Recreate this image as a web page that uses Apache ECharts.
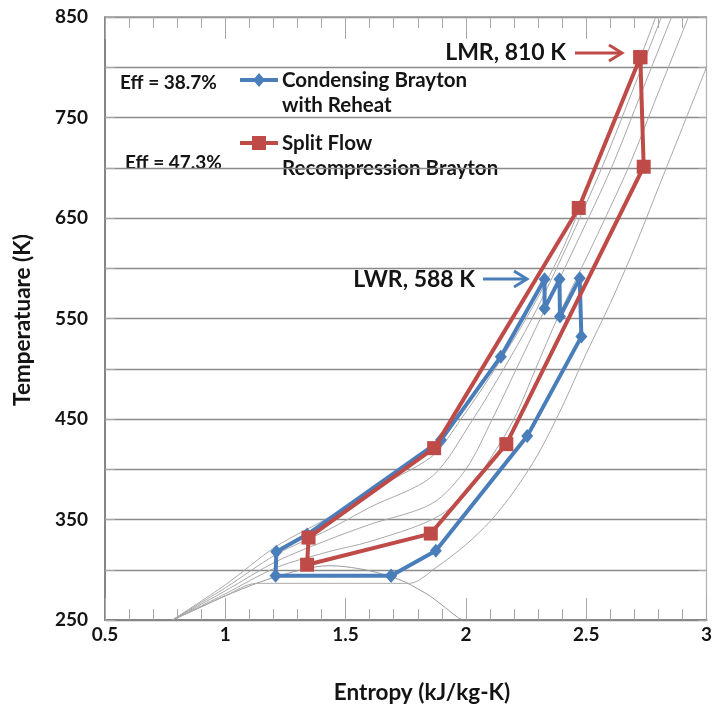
<!DOCTYPE html>
<html>
<head>
<meta charset="utf-8">
<script src="https://cdn.jsdelivr.net/npm/echarts@6/dist/echarts.min.js"></script>
<style>
  html, body { margin: 0; padding: 0; background: #ffffff; }
  #chart { width: 715px; height: 713px; }
</style>
</head>
<body>
<div id="chart"></div>
<script>
// Cycle state points on the CO2 T-s plane (entropy kJ/kg-K, temperature K)
const condensingS = [1.689, 1.209, 1.212, 1.340, 1.896, 2.145, 2.327, 2.327, 2.389, 2.391, 2.473, 2.480, 2.255, 1.875, 1.689];
const condensingT = [294, 294, 318, 335, 429, 512, 589, 560, 589, 552, 590, 532, 433, 319, 294];

const splitFlowS = [2.725, 2.739, 2.168, 1.854, 1.340, 1.346, 1.868, 2.469, 2.725];
const splitFlowT = [810, 701, 425, 336, 305, 332, 421, 660, 810];

// Saturation dome
const domeS = [0.78, 0.90, 1.00, 1.13, 1.21, 1.30, 1.38, 1.43, 1.50, 1.60, 1.69, 1.75, 1.80, 1.85, 1.90, 1.97, 1.99];
const domeT = [250, 263, 274, 286.5, 293, 299, 303, 304, 303, 299, 293, 287.5, 281, 274, 265, 252, 250];

// Isobars, lowest pressure first
const isobar1S = [0.78, 1.00, 1.13, 1.765, 1.875, 2.00, 2.10, 2.20, 2.30, 2.40, 2.50, 2.60, 2.70, 2.80, 2.90, 3.00];
const isobar1T = [250, 274, 286.5, 286.5, 302, 325, 348, 378, 415, 462, 515, 565, 620, 680, 740, 800];

const isobar2S = [0.78, 1.00, 1.21, 1.43, 1.60, 1.86, 2.00, 2.10, 2.20, 2.29, 2.38, 2.53, 2.675, 2.80, 2.925];
const isobar2T = [250, 276, 302, 318, 328, 350, 375, 410, 450, 500, 550, 625, 700, 775, 850];

const isobar3S = [0.78, 1.00, 1.21, 1.43, 1.60, 1.86, 2.00, 2.11, 2.21, 2.31, 2.46, 2.605, 2.73, 2.855];
const isobar3T = [250, 279, 308, 330, 345, 366, 400, 450, 500, 550, 625, 700, 775, 850];

const isobar4S = [0.78, 1.00, 1.21, 1.43, 1.60, 1.86, 2.03, 2.15, 2.275, 2.42, 2.565, 2.69, 2.813];
const isobar4T = [250, 282, 315, 340, 362, 393, 450, 497, 550, 622, 700, 775, 850];

const isobar5S = [0.78, 1.00, 1.21, 1.43, 1.60, 1.86, 1.98, 2.10, 2.25, 2.40, 2.54, 2.67, 2.789];
const isobar5T = [250, 285, 323, 352, 378, 413, 450, 492, 550, 618, 700, 775, 850];

// Axis ranges
const entropyMin = 0.5, entropyMax = 3, entropyStep = 0.5;
const tempMin = 250, tempMax = 850, tempStep = 50, tempLabelStep = 100;

const seriesNames = ['Condensing Brayton\nwith Reheat', 'Split Flow\nRecompression Brayton'];
const effLabels = ['Eff = 38.7%', 'Eff = 47.3%'];
const reactorLabels = ['LMR, 810 K', 'LWR, 588 K'];

const BLUE = '#4a7ebb';
const RED = '#be4b48';
const INK = '#141414';
const FONT = 'Lato, "Liberation Sans", sans-serif';

const pairs = (s, t) => s.map((v, i) => [v, t[i]]);

const chart = echarts.init(document.getElementById('chart'), null, { renderer: 'canvas' });

function backgroundLine(name, s, t, color) {
  return {
    name: name, type: 'line', data: pairs(s, t), showSymbol: false, symbol: 'none',
    silent: true, smooth: 0.3, z: 1,
    lineStyle: { color: color, width: 1 }
  };
}

const tickStyle = { color: '#a8a8a8', width: 1 };
const labelStyle = { fontFamily: FONT, fontWeight: 'bold', fontSize: 19, color: INK };
const textBase = { fontFamily: FONT, fontWeight: 'bold', fill: INK };

function legendEntry(y, color, symbol, lines) {
  const items = [
    { type: 'line', shape: { x1: 240, y1: y, x2: 278, y2: y }, style: { stroke: color, lineWidth: 4 } }
  ];
  if (symbol === 'diamond') {
    items.push({ type: 'polygon', shape: { points: [[259, y - 7], [265, y], [259, y + 7], [253, y]] }, style: { fill: color } });
  } else {
    items.push({ type: 'rect', shape: { x: 252, y: y - 7, width: 14, height: 14 }, style: { fill: color } });
  }
  lines.forEach((ln, i) => {
    items.push({ type: 'text', style: Object.assign({}, textBase, { x: 282, y: y + i * 25.5, text: ln, fontSize: 20.5, align: 'left', verticalAlign: 'middle' }) });
  });
  return items;
}

function arrow(x1, x2, y, color) {
  return [
    { type: 'line', shape: { x1: x1, y1: y, x2: x2 - 1, y2: y }, style: { stroke: color, lineWidth: 3 } },
    { type: 'polyline', shape: { points: [[x2 - 13, y - 8], [x2, y], [x2 - 13, y + 8]] }, style: { stroke: color, lineWidth: 3, fill: null } }
  ];
}

const graphics = []
  .concat(legendEntry(80, BLUE, 'diamond', seriesNames[0].split('\n')))
  .concat(legendEntry(143, RED, 'square', seriesNames[1].split('\n')))
  .concat([
    { type: 'text', style: Object.assign({}, textBase, { x: 120, y: 83, text: effLabels[0], fontSize: 19, align: 'left', verticalAlign: 'middle' }) },
    { type: 'text', style: Object.assign({}, textBase, { x: 125, y: 163, text: effLabels[1], fontSize: 19, align: 'left', verticalAlign: 'middle' }) },
    { type: 'text', style: Object.assign({}, textBase, { x: 566, y: 53, text: reactorLabels[0], fontSize: 23, align: 'right', verticalAlign: 'middle' }) },
    { type: 'text', style: Object.assign({}, textBase, { x: 475, y: 280, text: reactorLabels[1], fontSize: 23, align: 'right', verticalAlign: 'middle' }) },
    { type: 'text', style: Object.assign({}, textBase, { x: 422, y: 693, text: 'Entropy (kJ/kg-K)', fontSize: 22.5, align: 'center', verticalAlign: 'middle' }) },
    { type: 'text', x: 23, y: 320, rotation: Math.PI / 2, style: Object.assign({}, textBase, { x: 0, y: 0, text: 'Temperatuare (K)', fontSize: 22.5, align: 'center', verticalAlign: 'middle' }) }
  ])
  .concat(arrow(575, 622, 53, RED))
  .concat(arrow(483, 527, 279, BLUE));

const option = {
  animation: false,
  backgroundColor: '#ffffff',
  grid: { left: 105, top: 17, right: 7, bottom: 93, containLabel: false },
  xAxis: [
    {
      type: 'value', min: entropyMin, max: entropyMax, interval: entropyStep, position: 'bottom',
      axisLine: { show: true, onZero: false, lineStyle: { color: '#868686', width: 2 } },
      axisTick: { show: true, inside: true, length: 22, lineStyle: tickStyle },
      minorTick: { show: true, splitNumber: 5, length: 11, lineStyle: tickStyle },
      splitLine: { show: false },
      axisLabel: Object.assign({ margin: 5 }, labelStyle)
    },
    {
      type: 'value', min: entropyMin, max: entropyMax, interval: entropyStep, position: 'top',
      axisLine: { show: true, onZero: false, lineStyle: { color: '#9a9a9a', width: 1.5 } },
      axisTick: { show: true, inside: true, length: 22, lineStyle: tickStyle },
      minorTick: { show: true, splitNumber: 5, length: 11, lineStyle: tickStyle },
      splitLine: { show: false },
      axisLabel: { show: false }
    }
  ],
  yAxis: [
    {
      type: 'value', min: tempMin, max: tempMax, interval: tempStep, position: 'left',
      axisLine: { show: true, onZero: false, lineStyle: { color: '#868686', width: 2 } },
      axisTick: { show: true, inside: true, length: 10, lineStyle: tickStyle },
      splitLine: { show: true, lineStyle: { color: '#8a8a8a', width: 1.3 } },
      axisLabel: Object.assign({
        margin: 17,
        formatter: v => ((v - tempMin) % tempLabelStep === 0 ? String(v) : '')
      }, labelStyle)
    },
    {
      type: 'value', min: tempMin, max: tempMax, interval: tempStep, position: 'right',
      axisLine: { show: true, onZero: false, lineStyle: { color: '#b0b0b0', width: 1.2 } },
      axisTick: { show: true, inside: true, length: 8, lineStyle: tickStyle },
      splitLine: { show: false },
      axisLabel: { show: false }
    }
  ],
  series: [
    backgroundLine('dome', domeS, domeT, '#9a9a9a'),
    backgroundLine('p1', isobar1S, isobar1T, '#a8a8a8'),
    backgroundLine('p2', isobar2S, isobar2T, '#a8a8a8'),
    backgroundLine('p3', isobar3S, isobar3T, '#a8a8a8'),
    backgroundLine('p4', isobar4S, isobar4T, '#a8a8a8'),
    backgroundLine('p5', isobar5S, isobar5T, '#a8a8a8'),
    {
      name: seriesNames[0], type: 'line', data: pairs(condensingS, condensingT), z: 3,
      symbol: 'diamond', symbolSize: [12, 14], showAllSymbol: true,
      lineStyle: { color: BLUE, width: 4 }, itemStyle: { color: BLUE }
    },
    {
      name: seriesNames[1], type: 'line', data: pairs(splitFlowS, splitFlowT), z: 4,
      symbol: 'rect', symbolSize: 14, showAllSymbol: true,
      lineStyle: { color: RED, width: 4 }, itemStyle: { color: RED }
    }
  ],
  graphic: { elements: graphics }
};

chart.setOption(option);
</script>
</body>
</html>
